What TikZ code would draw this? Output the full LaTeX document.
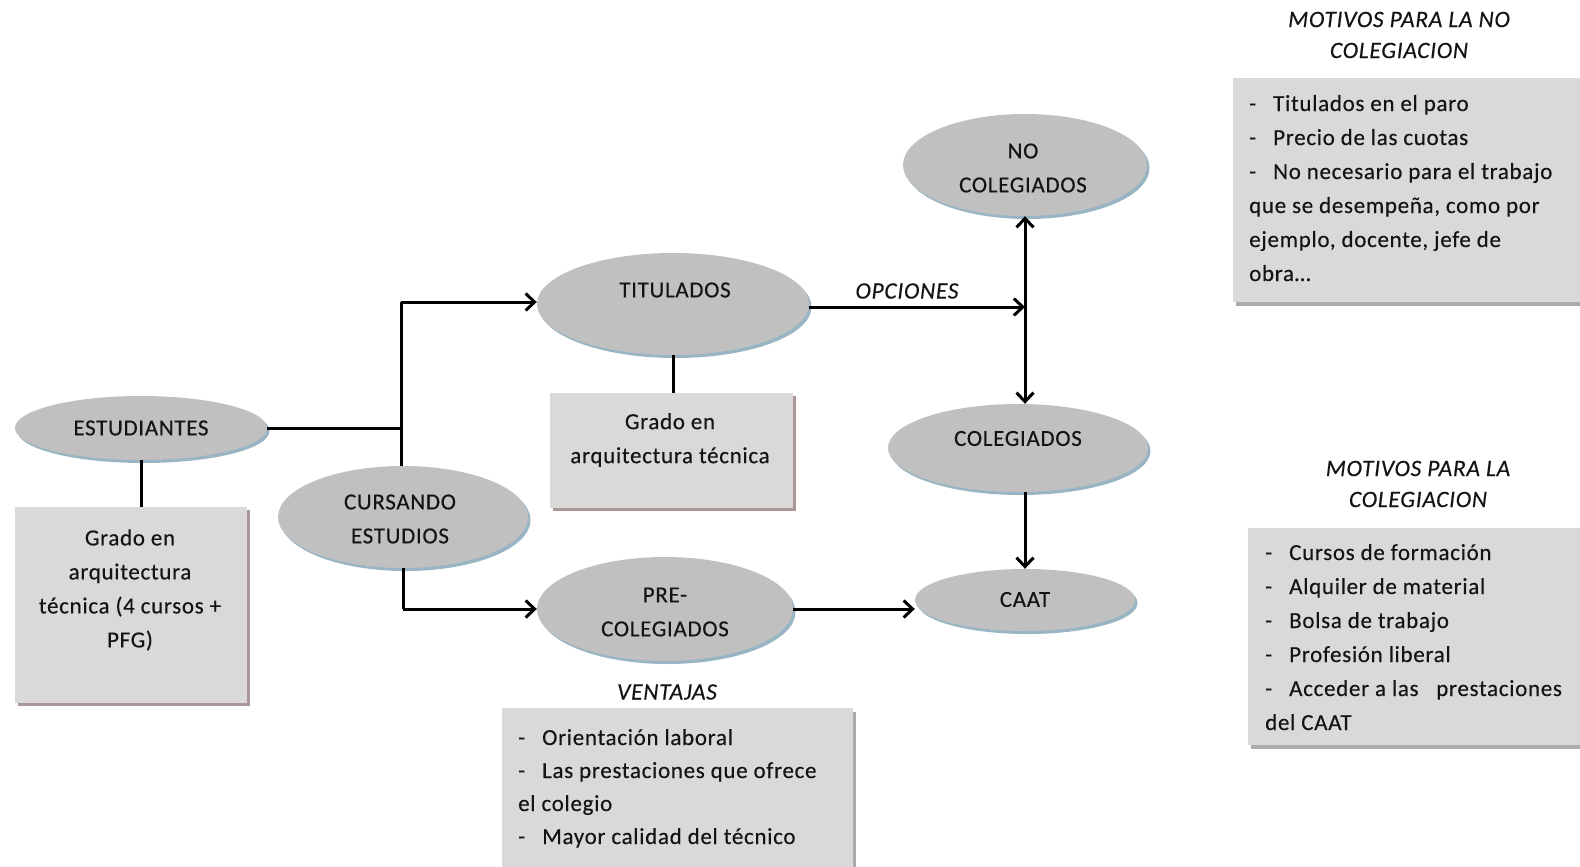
\documentclass[tikz,border=0pt]{standalone}
\usepackage{fontspec}
\setmainfont{Carlito}[LetterSpace=3,FakeBold=0.3]
\usetikzlibrary{shapes.geometric,shadows,arrows.meta,calc}
\definecolor{ellfill}{HTML}{C0C0C0}
\definecolor{ellshadow}{HTML}{8EAEBE}
\definecolor{boxfill}{HTML}{D9D9D9}
\definecolor{boxshadowred}{HTML}{A48C8C}
\definecolor{boxshadowgray}{HTML}{A3A3A3}
\definecolor{txtcol}{HTML}{141414}
\begin{document}
\begin{tikzpicture}[x=1pt,y=-1pt,
  font=\fontsize{23}{34}\selectfont,
  ell/.style={ellipse, fill=ellfill, inner sep=0pt,
    drop shadow={shadow xshift=2.5pt, shadow yshift=-3pt, fill=ellshadow, opacity=0.9}},
  boxr/.style={rectangle, fill=boxfill, inner sep=0pt,
    drop shadow={shadow xshift=3pt, shadow yshift=-3pt, fill=boxshadowred, opacity=0.9}},
  boxg/.style={rectangle, fill=boxfill, inner sep=0pt,
    drop shadow={shadow xshift=3pt, shadow yshift=-4pt, fill=boxshadowgray, opacity=0.9}},
  lbl/.style={text=txtcol, inner sep=0pt, align=center},
  ttl/.style={text=txtcol, inner sep=0pt, align=center, font=\fontsize{23.5}{31}\selectfont\itshape},
  lst/.style={text=txtcol, inner sep=0pt, align=left, anchor=base west},
  conn/.style={line width=3pt, black},
  arr/.style={conn, -{Straight Barb[length=9pt,width=17pt]}},
  darr/.style={conn, {Straight Barb[length=9pt,width=17pt]}-{Straight Barb[length=9pt,width=17pt]}}
]
\clip (0,0) rectangle (1580,867);
\fill[white] (0,0) rectangle (1580,867);
\newcommand{\dsh}{\makebox[24pt][l]{-}}

% ellipses
\node[ell, minimum width=252pt, minimum height=64pt] (est) at (141,428) {};
\node[ell, minimum width=250pt, minimum height=102pt] (cur) at (403,517) {};
\node[ell, minimum width=272pt, minimum height=102pt] (tit) at (673,304) {};
\node[ell, minimum width=256pt, minimum height=104pt] (pre) at (665,609) {};
\node[ell, minimum width=244pt, minimum height=102pt] (nocol) at (1025,165) {};
\node[ell, minimum width=260pt, minimum height=88pt] (col) at (1018,448) {};
\node[ell, minimum width=220pt, minimum height=62pt] (caat) at (1025,600) {};

% boxes
\node[boxr, minimum width=232pt, minimum height=196pt] (b1) at (131,605) {};
\node[boxr, minimum width=243pt, minimum height=115pt] (b2) at (671.5,450.5) {};
\node[boxg, minimum width=370pt, minimum height=224pt] (bno) at (1418,190) {};
\node[boxg, minimum width=360pt, minimum height=217pt] (bcol) at (1428,636.5) {};
\node[boxg, minimum width=351pt, minimum height=200pt] (bven) at (677.5,808) {};

% ellipse texts
\node[lbl] (test) at (141,428) {ESTUDIANTES};
\node[lbl] (tcur) at (400,519) {CURSANDO\\ESTUDIOS};
\node[lbl] (ttit) at (675,290) {TITULADOS};
\node[lbl] (tpre) at (665,612) {PRE-\\COLEGIADOS};
\node[lbl] (tnocol) at (1023,168) {NO\\COLEGIADOS};
\node[lbl] (tcol) at (1018,438.5) {COLEGIADOS};
\node[lbl] (tcaat) at (1025,599.5) {CAAT};

% box texts
\node[lbl] (tb1) at (130,590) {Grado en\\arquitectura\\técnica (4 cursos +\\PFG)};
\node[lbl] (tb2) at (670,440) {Grado en\\arquitectura técnica};

\node[lst] (tbno) at (1249,281) {\dsh Titulados  en el paro\\\dsh Precio de las cuotas\\\dsh No necesario para el trabajo\\que se desempeña, como por\\ejemplo, docente, jefe de\\obra\ldots};
\node[lst] (tbcol) at (1265,730) {\dsh Cursos de formación\\\dsh Alquiler de material\\\dsh Bolsa de trabajo\\\dsh Profesión liberal\\\dsh Acceder a las \ \ prestaciones\\del CAAT};
\node[lst, font=\fontsize{23}{33}\selectfont] (tbven) at (518,844) {\dsh Orientación laboral\\\dsh Las prestaciones que ofrece\\el colegio\\\dsh Mayor calidad del técnico};

% titles
\node[ttl] (t1) at (1399,35) {MOTIVOS PARA LA NO\\COLEGIACION};
\node[ttl] (t2) at (1418,484) {MOTIVOS PARA LA\\COLEGIACION};
\node[ttl] (topc) at (907,291) {OPCIONES};
\node[ttl] (tven) at (667,692) {VENTAJAS};

% connectors
\coordinate (j1) at (401,302);
\coordinate (j2) at (cur.south |- pre.west);
\coordinate (j3) at (1025,307);
\draw[conn] (est.south) -- (est.south |- b1.north);
\draw[conn] (est.east) -- (est.east -| j1);
\draw[conn] (cur.north -| j1) -- (j1);
\draw[arr] (j1) -- (j1 -| tit.west);
\draw[conn] (cur.south) -- (j2);
\draw[arr] (j2) -- (pre.west);
\draw[conn] (tit.south) -- (tit.south |- b2.north);
\draw[arr] (tit.east |- j3) -- (j3);
\draw[darr] (nocol.south) -- (col.north -| nocol.south);
\draw[arr] (col.south -| caat.north) -- (caat.north);
\draw[arr] (pre.east) -- (pre.east -| caat.west);
\draw[conn] ($(nocol.east)+(0,-5)$) -- ($(nocol.east)+(0,-5)$ -| bno.west);
\draw[conn] ($(caat.east)+(0,-3)$) -- ($(caat.east)+(0,-3)$ -| bcol.west);
\end{tikzpicture}
\end{document}
